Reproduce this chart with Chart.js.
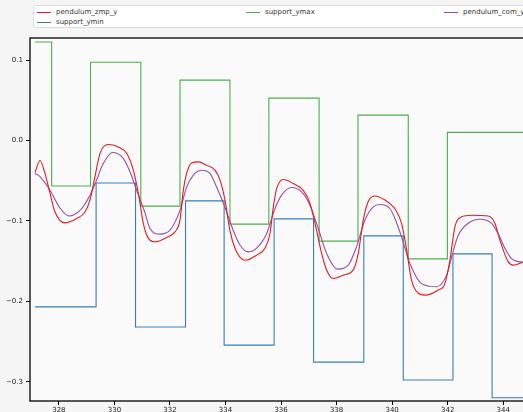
<!DOCTYPE html>
<html>
<head>
<meta charset="utf-8">
<script src="https://cdn.jsdelivr.net/npm/chart.js@4.4.0/dist/chart.umd.min.js"></script>
<style>
  html, body { margin: 0; padding: 0; background: #f5f5f5; overflow: hidden; width: 523px; height: 412px; }
  #wrap { position: relative; width: 523px; height: 412px; overflow: hidden; }
  #plot { position: absolute; left: 0; top: 0; }
  #legend { position: absolute; left: 33px; top: 5px; width: 600px; height: 21px; background: #fff;
            border: 1px solid #dcdcdc; border-radius: 2px; }
  .item { position: absolute; font: 7px "DejaVu Sans", sans-serif; color: #333; white-space: nowrap; }
  .item span.ln { position: absolute; top: 4px; width: 14px; height: 1px; }
  .item span.tx { position: absolute; left: 19px; top: 0; line-height: 8px; }
</style>
</head>
<body>
<div id="wrap">
  <canvas id="plot" width="546" height="412"></canvas>
  <div id="legend"></div>
</div>
<script>
// pendulum_com_y (purple)
var comX = [327.14, 327.32, 327.68, 328.04, 328.37, 328.76, 329.12, 329.36, 329.58, 329.93, 330.31, 330.56,
  330.80, 331.10, 331.28, 331.64, 332.00, 332.36, 332.60, 332.84, 333.14, 333.44, 333.68, 333.98, 334.28,
  334.52, 334.82, 335.12, 335.48, 335.78, 336.02, 336.38, 336.74, 337.04, 337.34, 337.64, 338.04, 338.42,
  338.72, 339.02, 339.32, 339.56, 339.92, 340.10, 340.34, 340.64, 341.06, 341.60, 341.96, 342.14, 342.38,
  342.74, 343.16, 343.58, 343.82, 344.06, 344.30, 344.60, 344.80];
var comY = [-0.041, -0.045, -0.062, -0.084, -0.094, -0.087, -0.068, -0.049, -0.030, -0.015, -0.022, -0.039,
  -0.062, -0.090, -0.1095, -0.1165, -0.1116, -0.087, -0.058, -0.043, -0.037, -0.041, -0.058, -0.083, -0.112,
  -0.130, -0.1386, -0.134, -0.116, -0.085, -0.068, -0.0585, -0.064, -0.0805, -0.1095, -0.1405, -0.160, -0.155,
  -0.132, -0.099, -0.0826, -0.0796, -0.0846, -0.097, -0.120, -0.153, -0.178, -0.182, -0.1675, -0.145, -0.118,
  -0.103, -0.098, -0.103, -0.116, -0.134, -0.147, -0.151, -0.1515];

// pendulum_zmp_y (red)
var zmpX = [327.14, 327.32, 327.50, 327.68, 327.86, 328.22, 328.64, 328.94, 329.12, 329.30, 329.48, 329.78,
  330.13, 330.44, 330.68, 330.86, 331.04, 331.22, 331.46, 331.88, 332.18, 332.36, 332.48, 332.60, 332.78,
  333.02, 333.32, 333.62, 333.80, 333.98, 334.16, 334.34, 334.52, 334.70, 335.12, 335.42, 335.60, 335.72,
  335.84, 336.08, 336.44, 336.80, 337.04, 337.28, 337.46, 337.64, 337.88, 338.24, 338.60, 338.78, 338.96,
  339.14, 339.38, 339.74, 339.98, 340.10, 340.34, 340.52, 340.70, 340.94, 341.18, 341.66, 341.90, 342.08,
  342.26, 342.50, 342.86, 343.46, 343.70, 343.88, 344.18, 344.36, 344.80];
var zmpY = [-0.040, -0.025, -0.041, -0.0655, -0.089, -0.1025, -0.097, -0.089, -0.074, -0.045, -0.016, -0.005,
  -0.008, -0.016, -0.037, -0.0655, -0.103, -0.1215, -0.126, -0.1206, -0.1137, -0.099, -0.062, -0.041, -0.028,
  -0.0266, -0.031, -0.037, -0.049, -0.074, -0.112, -0.134, -0.145, -0.149, -0.1427, -0.134, -0.116, -0.083,
  -0.060, -0.0485, -0.0535, -0.062, -0.078, -0.112, -0.1405, -0.161, -0.1716, -0.1675, -0.161, -0.1405, -0.099,
  -0.076, -0.069, -0.074, -0.0805, -0.085, -0.103, -0.136, -0.174, -0.190, -0.1924, -0.186, -0.178, -0.149,
  -0.1075, -0.095, -0.093, -0.094, -0.103, -0.124, -0.151, -0.155, -0.150];

// support_ymax (green): each level holds from its x to the next x, last entry is the line end
var ymaxX = [327.14, 327.74, 329.14, 330.95, 332.36, 334.16, 335.56, 337.37, 338.77, 340.58, 341.99, 345.5];
var ymaxY = [0.1224, -0.0567, 0.0972, -0.0817, 0.0750, -0.1040, 0.0526, -0.1252, 0.0315, -0.1473, 0.0100, 0.0100];

// support_ymin (blue)
var yminX = [327.14, 329.34, 330.76, 332.56, 333.95, 335.75, 337.17, 338.98, 340.40, 342.19, 343.60, 345.5];
var yminY = [-0.207, -0.053, -0.232, -0.0751, -0.2545, -0.0975, -0.2757, -0.1187, -0.2978, -0.141, -0.320, -0.320];

var xTicks = [328, 330, 332, 334, 336, 338, 340, 342, 344];
var yTicks = [-0.3, -0.2, -0.1, 0.0, 0.1];

function pts(xs, ys) {
  return xs.map(function (x, i) { return { x: x, y: ys[i] }; });
}

var frame = {
  id: "frame",
  beforeDatasetsDraw: function (chart) {
    var a = chart.chartArea, ctx = chart.ctx;
    ctx.save();
    ctx.fillStyle = "#fafafa";
    ctx.fillRect(a.left, a.top, a.right - a.left, a.bottom - a.top);
    ctx.restore();
  },
  afterDatasetsDraw: function (chart) {
    var a = chart.chartArea, ctx = chart.ctx;
    ctx.save();
    ctx.strokeStyle = "#000";
    ctx.lineWidth = 1.3;
    ctx.strokeRect(a.left, a.top, a.right - a.left, a.bottom - a.top);
    ctx.restore();
  },
};

var datasets = [
  { label: "pendulum_zmp_y", data: pts(zmpX, zmpY), borderColor: "#e41a1c", cubicInterpolationMode: "monotone", order: 1 },
  { label: "support_ymin", data: pts(yminX, yminY), borderColor: "#377eb8", stepped: "before", order: 3 },
  { label: "support_ymax", data: pts(ymaxX, ymaxY), borderColor: "#4daf4a", stepped: "before", order: 4 },
  { label: "pendulum_com_y", data: pts(comX, comY), borderColor: "#984ea3", cubicInterpolationMode: "monotone", order: 2 },
];
datasets.forEach(function (d) {
  d.borderWidth = 1.1;
  d.pointRadius = 0;
  d.fill = false;
});

new Chart(document.getElementById("plot"), {
  type: "line",
  data: { datasets: datasets },
  plugins: [frame],
  options: {
    responsive: false,
    animation: false,
    devicePixelRatio: 1,
    layout: { padding: { top: 38, left: 0, right: 0, bottom: 0 } },
    plugins: { legend: { display: false }, tooltip: { enabled: false } },
    scales: {
      x: {
        type: "linear",
        min: 326.96,
        max: 345.54,
        afterFit: function (s) { s.height = 11; },
        afterBuildTicks: function (s) { s.ticks = xTicks.map(function (v) { return { value: v }; }); },
        grid: { drawOnChartArea: false, drawTicks: true, tickLength: 4, tickColor: "#000" },
        border: { display: false },
        ticks: { padding: 1, color: "#222", font: { family: "DejaVu Sans", size: 7 }, maxRotation: 0,
          autoSkip: false, callback: function (v) { return String(v); } },
      },
      y: {
        min: -0.324,
        max: 0.1274,
        afterFit: function (s) { s.width = 30; },
        afterBuildTicks: function (s) { s.ticks = yTicks.map(function (v) { return { value: v }; }); },
        grid: { drawOnChartArea: false, drawTicks: true, tickLength: 4, tickColor: "#000" },
        border: { display: false },
        ticks: { padding: 3, color: "#222", font: { family: "DejaVu Sans", size: 7 }, autoSkip: false,
          callback: function (v) { return v.toFixed(1).replace("-", "\u2212"); } },
      },
    },
  },
});

// legend laid out in columns like the original figure
var legendCols = [[0, 1], [2], [3]];
var colLeft = [3, 212, 410];
var rowTop = [2, 12];
var legend = document.getElementById("legend");
legendCols.forEach(function (col, c) {
  col.forEach(function (di, r) {
    var d = datasets[di];
    var it = document.createElement("div");
    it.className = "item";
    it.style.left = colLeft[c] + "px";
    it.style.top = rowTop[r] + "px";
    it.innerHTML = '<span class="ln" style="background:' + d.borderColor + '"></span><span class="tx">' + d.label + "</span>";
    legend.appendChild(it);
  });
});
</script>
</body>
</html>
